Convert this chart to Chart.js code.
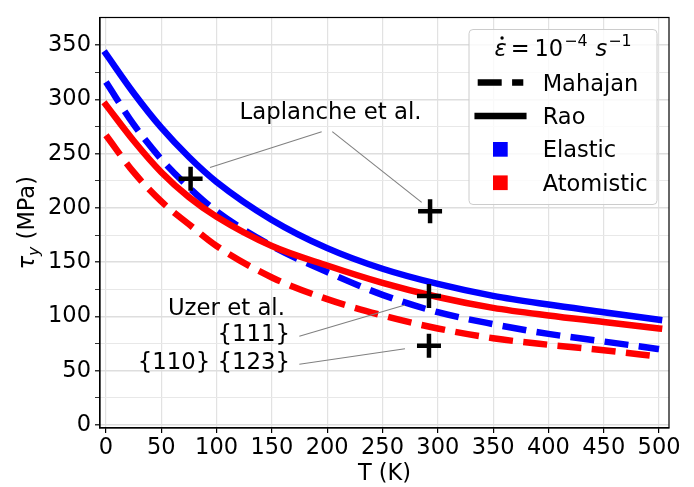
<!DOCTYPE html>
<html>
<head>
<meta charset="utf-8">
<script src="https://cdn.jsdelivr.net/npm/chart.js@4.4.1/dist/chart.umd.min.js"></script>
<style>
  html, body { margin:0; padding:0; background:#fff; }
  canvas { display:block; }
</style>
</head>
<body>
<canvas id="chart" width="694" height="487"></canvas>
<script>
// temperature (K) and yield stress (MPa)
const temps = [0, 25, 50, 75, 100, 150, 200, 250, 300, 350, 400, 450, 500]
const elasticMahajan   = [316, 277, 245, 219, 197, 165, 141, 120, 104, 93, 84, 77, 70]
const elasticRao       = [342, 306, 274, 247, 224, 189, 163, 144, 130, 119, 111, 104, 97]
const atomisticMahajan = [267, 233, 206, 185, 165, 136, 116, 101, 89, 80, 74, 69, 63]
const atomisticRao     = [295, 262, 233, 210, 192, 165, 147, 131, 118, 108, 101, 95, 89]

// experimental points (Laplanche x2, Uzer x2)
const expTemps = [76.5, 293, 292, 292]
const expTau   = [227, 197, 119, 73]

const xTicks = [0, 50, 100, 150, 200, 250, 300, 350, 400, 450, 500]
const yTicks = [0, 25, 50, 75, 100, 125, 150, 175, 200, 225, 250, 275, 300, 325, 350]

const legendLabels = ['Mahajan', 'Rao', 'Elastic', 'Atomistic']

// annotation text, placed in data units
const notes = [
  { text: 'Laplanche et al.', T: 203, tau: 287, align: 'center' },
  { text: 'Uzer et al.', T: 161.8, tau: 107, align: 'right' },
  { text: '{111}', T: 166.4, tau: 82.7, align: 'right' },
  { text: '{110} {123}', T: 166.4, tau: 56.9, align: 'right' }
]
// leader lines [T1, tau1, T2, tau2]
const leaders = [
  [195, 270.3, 94, 237.3],
  [204.6, 270.3, 285.4, 205.2],
  [174.8, 81.8, 270.3, 110.6],
  [174.8, 56.1, 270.3, 70.3]
]

const FONT = 'DejaVu Sans'
const FS = 22.5
const BLUE = '#0000ff'
const RED = '#ff0000'
const DASH = [24, 10.4]
const LW = 6.5

const pts = ys => temps.map((t, i) => ({ x: t, y: ys[i] }))

function lineSet(label, ys, color, dashed, order){
    return {
        label, data: pts(ys), borderColor: color, borderWidth: LW,
        borderDash: dashed ? DASH : [], borderCapStyle: dashed ? 'butt' : 'square',
        pointRadius: 0, fill: false, cubicInterpolationMode: 'monotone', order
    }
}

const extras = {
    id: 'extras',
    afterDatasetsDraw(chart){
        const { ctx, chartArea: a, scales: { x, y } } = chart
        ctx.save()

        // leader lines
        ctx.strokeStyle = '#808080'
        ctx.lineWidth = 1.1
        leaders.forEach(l => {
            ctx.beginPath()
            ctx.moveTo(x.getPixelForValue(l[0]), y.getPixelForValue(l[1]))
            ctx.lineTo(x.getPixelForValue(l[2]), y.getPixelForValue(l[3]))
            ctx.stroke()
        })

        // annotation text
        ctx.fillStyle = '#000'
        ctx.font = `22.8px "${FONT}"`
        ctx.textBaseline = 'middle'
        notes.forEach(n => {
            ctx.textAlign = n.align
            ctx.fillText(n.text, x.getPixelForValue(n.T), y.getPixelForValue(n.tau))
        })

        // frame
        ctx.strokeStyle = '#000'
        ctx.lineWidth = 1.2
        ctx.strokeRect(a.left, a.top, a.width, a.height)

        // legend
        const bw = 188, bh = 175
        const bx = a.right - 12 - bw, by = a.top + 12
        const r = 4
        ctx.beginPath()
        ctx.moveTo(bx + r, by)
        ctx.arcTo(bx + bw, by, bx + bw, by + bh, r)
        ctx.arcTo(bx + bw, by + bh, bx, by + bh, r)
        ctx.arcTo(bx, by + bh, bx, by, r)
        ctx.arcTo(bx, by, bx + bw, by, r)
        ctx.closePath()
        ctx.fillStyle = 'rgba(255,255,255,0.8)'
        ctx.fill()
        ctx.strokeStyle = '#cccccc'
        ctx.lineWidth = 1
        ctx.stroke()

        // legend title: eps-dot = 10^-4 s^-1
        const parts = [
            { t: '\u03b5', it: true, s: FS },
            { t: '=', s: FS, pre: 4 },
            { t: '10', s: FS, pre: 5 },
            { t: '\u22124', s: 15.8, dy: -10, pre: 1 },
            { t: 's', it: true, s: FS, pre: 8 },
            { t: '\u22121', s: 15.8, dy: -10, pre: 1 }
        ]
        let tw = 0
        parts.forEach(p => {
            ctx.font = `${p.it ? 'italic ' : ''}${p.s}px "${FONT}"`
            p.w = ctx.measureText(p.t).width
            tw += p.w + (p.pre || 0)
        })
        let cx = bx + bw / 2 - tw / 2
        const tb = by + 26
        ctx.fillStyle = '#000'
        ctx.textAlign = 'left'
        ctx.textBaseline = 'alphabetic'
        parts.forEach(p => {
            cx += p.pre || 0
            ctx.font = `${p.it ? 'italic ' : ''}${p.s}px "${FONT}"`
            ctx.fillText(p.t, cx, tb + (p.dy || 0))
            p.x = cx
            cx += p.w
        })
        ctx.beginPath()
        ctx.arc(parts[0].x + parts[0].w * 0.62, tb - 17.5, 1.7, 0, Math.PI * 2)
        ctx.fill()

        // legend entries
        ctx.font = `${FS}px "${FONT}"`
        legendLabels.forEach((lab, i) => {
            const base = by + 61 + i * 33.4
            const my = base - 8
            if (i < 2){
                ctx.strokeStyle = '#000'
                ctx.lineWidth = LW
                ctx.setLineDash(i === 0 ? DASH : [])
                ctx.lineCap = i === 0 ? 'butt' : 'square'
                ctx.beginPath()
                ctx.moveTo(bx + 8.7, my)
                ctx.lineTo(bx + 54.3, my)
                ctx.stroke()
                ctx.setLineDash([])
                ctx.lineCap = 'butt'
            } else {
                ctx.fillStyle = i === 2 ? BLUE : RED
                ctx.fillRect(bx + 24, my - 7.3, 14.7, 14.7)
            }
            ctx.fillStyle = '#000'
            ctx.fillText(lab, bx + 73.7, base)
        })

        // x axis title
        ctx.textAlign = 'center'
        ctx.fillText('T (K)', (a.left + a.right) / 2, a.bottom + 52)

        // y axis title with subscript
        ctx.save()
        ctx.translate(34, (a.top + a.bottom) / 2)
        ctx.rotate(-Math.PI / 2)
        ctx.textAlign = 'left'
        ctx.font = `italic ${FS}px "${FONT}"`
        const w1 = ctx.measureText('\u03c4').width
        ctx.font = `italic 15.8px "${FONT}"`
        const w2 = ctx.measureText('y').width
        ctx.font = `${FS}px "${FONT}"`
        const w3 = ctx.measureText(' (MPa)').width
        let sx = -(w1 + w2 + w3) / 2
        ctx.font = `italic ${FS}px "${FONT}"`
        ctx.fillText('\u03c4', sx, 0)
        sx += w1
        ctx.font = `italic 15.8px "${FONT}"`
        ctx.fillText('y', sx, 5)
        sx += w2
        ctx.font = `${FS}px "${FONT}"`
        ctx.fillText(' (MPa)', sx, 0)
        ctx.restore()

        ctx.restore()
    }
}

new Chart(document.getElementById('chart'), {
    type: 'line',
    data: {
        datasets: [
            {
                type: 'scatter', label: 'experiments',
                data: expTemps.map((t, i) => ({ x: t, y: expTau[i] })),
                pointStyle: 'cross', pointRadius: 12, pointBorderWidth: 4.5,
                borderColor: '#000', backgroundColor: '#000', showLine: false, order: 0
            },
            lineSet('Elastic Mahajan', elasticMahajan, BLUE, true, 4),
            lineSet('Elastic Rao', elasticRao, BLUE, false, 3),
            lineSet('Atomistic Mahajan', atomisticMahajan, RED, true, 2),
            lineSet('Atomistic Rao', atomisticRao, RED, false, 1)
        ]
    },
    options: {
        responsive: false,
        animation: false,
        devicePixelRatio: 1,
        layout: { padding: { top: 12, right: 25, left: 0, bottom: 0 } },
        plugins: { legend: { display: false }, tooltip: { enabled: false } },
        scales: {
            x: {
                type: 'linear', min: -5.4, max: 509,
                afterBuildTicks: s => { s.ticks = xTicks.map(v => ({ value: v })) },
                afterFit: s => { s.height = 59 },
                ticks: { font: { family: FONT, size: FS }, color: '#000', padding: 2, maxRotation: 0, autoSkip: false },
                grid: { color: '#e2e2e2', lineWidth: 1.2, tickLength: 5, tickColor: '#000', tickWidth: 1.2 },
                border: { color: '#000', width: 1.2 }
            },
            y: {
                type: 'linear', min: -2.7, max: 375.5,
                afterBuildTicks: s => { s.ticks = yTicks.map(v => ({ value: v })) },
                afterFit: s => { s.width = 100 },
                ticks: {
                    font: { family: FONT, size: FS }, color: '#000', padding: 4, autoSkip: false,
                    callback: v => v % 50 === 0 ? String(v) : ''
                },
                grid: {
                    color: c => c.tick && c.tick.value % 50 === 0 ? '#dedede' : '#e8e8e8',
                    lineWidth: c => c.tick && c.tick.value % 50 === 0 ? 1.6 : 1,
                    tickLength: 5, tickColor: '#000',
                    tickWidth: c => c.tick && c.tick.value % 50 === 0 ? 1.2 : 0.8
                },
                border: { color: '#000', width: 1.2 }
            }
        }
    },
    plugins: [extras]
})
</script>
</body>
</html>
